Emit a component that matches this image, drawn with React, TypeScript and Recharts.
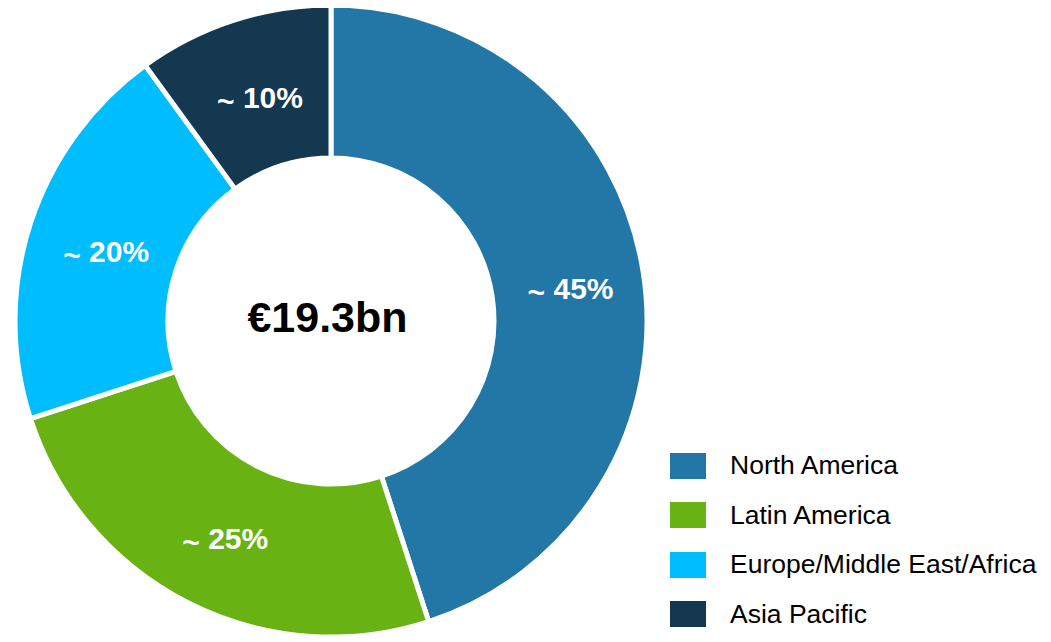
import React from 'react';
import { PieChart, Pie, Cell, Legend } from 'recharts';

// Revenue split by region
const regions = ['North America', 'Latin America', 'Europe/Middle East/Africa', 'Asia Pacific'];
const shares = [45, 25, 20, 10];
const colors = ['#2377A6', '#68B214', '#00BDFF', '#13384F'];
const totalLabel = '€19.3bn';

const FONT = '"Liberation Sans", Arial, Helvetica, sans-serif';
const RADIAN = Math.PI / 180;

const data = regions.map((name, i) => ({ name, value: shares[i] }));

const renderLabel = (props: any) => {
  const { cx, cy, midAngle, innerRadius, outerRadius, value } = props;
  const r = (innerRadius + outerRadius) / 2;
  const x = cx + r * Math.cos(-midAngle * RADIAN) + 3;
  const y = cy + r * Math.sin(-midAngle * RADIAN) + 4;
  return (
    <text
      x={x}
      y={y}
      fill="#ffffff"
      textAnchor="middle"
      dominantBaseline="central"
      fontFamily={FONT}
      fontWeight="bold"
      fontSize={30}
    >
      <tspan dy={4}>~</tspan>
      <tspan dy={-4}>{` ${value}%`}</tspan>
    </text>
  );
};

const renderLegend = () => (
  <div style={{ fontFamily: FONT }}>
    {regions.map((name, i) => (
      <div key={name} style={{ display: 'flex', alignItems: 'center', height: 49.5 }}>
        <div style={{ width: 36, height: 26, background: colors[i], marginRight: 24 }} />
        <span style={{ fontSize: 26.5, color: '#000' }}>{name}</span>
      </div>
    ))}
  </div>
);

export default function App() {
  return (
    <PieChart width={1043} height={634} margin={{ top: 0, right: 0, bottom: 0, left: 0 }}>
      <Pie
        data={data}
        dataKey="value"
        nameKey="name"
        cx={323}
        cy={313}
        innerRadius={163}
        outerRadius={316}
        startAngle={90}
        endAngle={-270}
        stroke="#ffffff"
        strokeWidth={5}
        label={renderLabel}
        labelLine={false}
        isAnimationActive={false}
      >
        {data.map((entry, i) => (
          <Cell key={entry.name} fill={colors[i]} />
        ))}
      </Pie>
      <text
        x={319.5}
        y={309}
        textAnchor="middle"
        dominantBaseline="central"
        fontFamily={FONT}
        fontWeight="bold"
        fontSize={43}
        fill="#000"
      >
        {totalLabel}
      </text>
      <Legend
        content={renderLegend}
        wrapperStyle={{ position: 'absolute', top: 433, left: 662, width: 380 }}
      />
    </PieChart>
  );
}
